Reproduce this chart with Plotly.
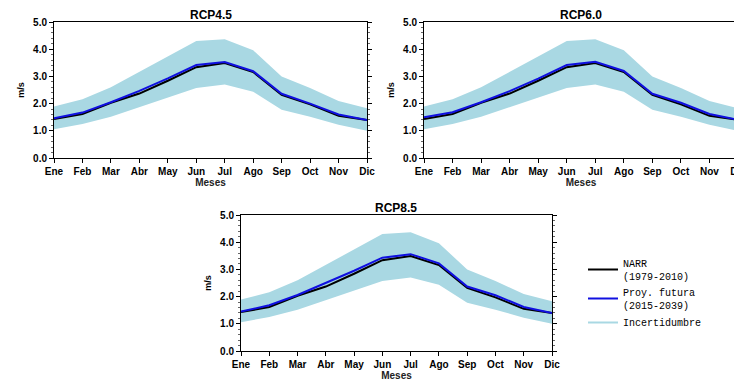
import plotly.graph_objects as go

meses = ["Ene", "Feb", "Mar", "Abr", "May", "Jun", "Jul", "Ago", "Sep", "Oct", "Nov", "Dic"]
titulos = ["RCP4.5", "RCP6.0", "RCP8.5"]

narr = [1.43, 1.62, 2.03, 2.37, 2.84, 3.34, 3.49, 3.16, 2.32, 1.97, 1.55, 1.40]
proy_45 = [1.46, 1.67, 2.05, 2.47, 2.93, 3.42, 3.53, 3.19, 2.36, 2.00, 1.60, 1.40]
proy_60 = [1.50, 1.68, 2.05, 2.46, 2.92, 3.42, 3.54, 3.20, 2.36, 2.03, 1.62, 1.40]
proy_85 = [1.45, 1.68, 2.06, 2.50, 2.95, 3.43, 3.56, 3.22, 2.37, 2.05, 1.62, 1.40]
banda_sup = [1.89, 2.16, 2.60, 3.16, 3.71, 4.30, 4.37, 3.96, 3.00, 2.57, 2.10, 1.83]
banda_inf = [1.06, 1.25, 1.52, 1.87, 2.24, 2.57, 2.70, 2.44, 1.77, 1.52, 1.22, 1.00]

proyecciones = [proy_45, proy_60, proy_85]

# page offset of the plot div (browser body margin)
OFF = 8
W, H = 742 - OFF, 385 - OFF
# plot-area boxes in page pixels (left, right, top, bottom)
boxes = [(54, 367, 22, 158), (424, 738, 22, 158), (241, 552, 215, 351)]
title_y = [15.5, 15.5, 208]

BAND = "#a9d8e3"
FONT = "Liberation Sans"


def px(v):
    return (v - OFF) / W


def py(v):
    return 1 - (v - OFF) / H


fig = go.Figure()
x = list(range(len(meses)))

for i, proy in enumerate(proyecciones):
    xa = "x" if i == 0 else f"x{i+1}"
    ya = "y" if i == 0 else f"y{i+1}"
    fig.add_trace(go.Scatter(x=x, y=banda_inf, mode="lines", line=dict(width=0, color=BAND),
                             xaxis=xa, yaxis=ya, showlegend=False, hoverinfo="skip"))
    fig.add_trace(go.Scatter(x=x, y=banda_sup, mode="lines", line=dict(width=0, color=BAND),
                             fill="tonexty", fillcolor=BAND,
                             xaxis=xa, yaxis=ya, showlegend=False, hoverinfo="skip"))
    fig.add_trace(go.Scatter(x=x, y=narr, mode="lines", line=dict(color="black", width=2),
                             xaxis=xa, yaxis=ya, showlegend=(i == 2),
                             name="NARR<br>(1979-2010)"))
    fig.add_trace(go.Scatter(x=x, y=proy, mode="lines", line=dict(color="#1010e0", width=2),
                             xaxis=xa, yaxis=ya, showlegend=(i == 2),
                             name="Proy. futura<br>(2015-2039)"))

fig.add_trace(go.Scatter(x=[None], y=[None], mode="lines", line=dict(color=BAND, width=2),
                         xaxis="x3", yaxis="y3", name="Incertidumbre", showlegend=True))

layout = dict(
    width=W, height=H,
    margin=dict(l=0, r=0, t=0, b=0),
    paper_bgcolor="white", plot_bgcolor="white",
    showlegend=True,
    legend=dict(x=px(583), y=py(250), xanchor="left", yanchor="top",
                font=dict(family="Liberation Mono", size=10, color="black"),
                bgcolor="rgba(0,0,0,0)", tracegroupgap=0, itemwidth=30,
                traceorder="normal"),
    annotations=[],
)

for i, (l, r, t, b) in enumerate(boxes):
    sx = "" if i == 0 else str(i + 1)
    layout["xaxis" + sx] = dict(
        domain=[px(l), min(px(r), 1)], anchor="y" + sx, range=[0, 11], automargin=False,
        tickvals=x, ticktext=[f"<b>{m}</b>" for m in meses],
        ticks="outside", ticklen=4, tickwidth=1, ticklabeloverflow="allow",
        tickcolor="black", showline=True, linecolor="black", linewidth=1, mirror=True,
        showgrid=False, zeroline=False,
        tickfont=dict(family=FONT, size=10, color="black"),
        title=dict(text="<b>Meses</b>", font=dict(family=FONT, size=10, color="#222"), standoff=2),
    )
    layout["yaxis" + sx] = dict(
        domain=[py(b), py(t)], anchor="x" + sx, range=[0, 5], automargin=False,
        tickmode="linear", tick0=0, dtick=1, tickformat=".1f",
        ticks="outside", ticklen=4, tickcolor="black",
        minor=dict(dtick=0.2, ticks="outside", ticklen=2, tickcolor="#666"),
        showline=True, linecolor="black", linewidth=1, mirror="ticks",
        showgrid=False, zeroline=False,
        tickfont=dict(family=FONT, size=10, color="black", weight="bold"),
        title=dict(text="<b>m/s</b>", font=dict(family=FONT, size=9, color="black"), standoff=6),
    )
    layout["annotations"].append(dict(
        text=f"<b>{titulos[i]}</b>", x=(px(l) + px(r)) / 2, y=py(title_y[i]),
        xref="paper", yref="paper", xanchor="center", yanchor="middle", showarrow=False,
        borderpad=0, font=dict(family=FONT, size=12, color="black")))

fig.update_layout(**layout)
fig.write_html("out.html")
